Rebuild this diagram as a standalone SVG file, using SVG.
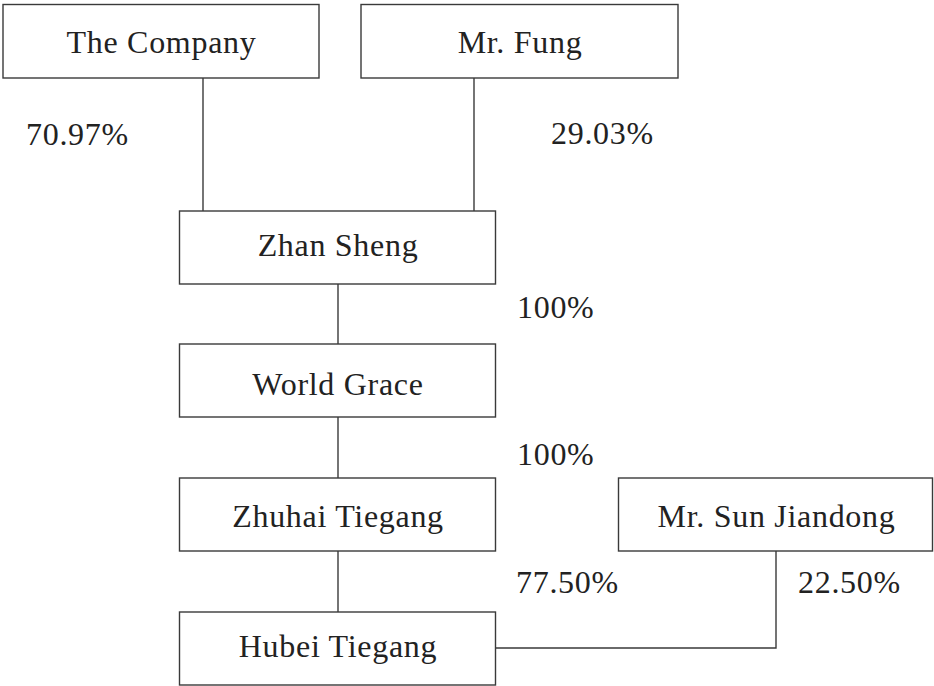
<svg xmlns="http://www.w3.org/2000/svg" width="934" height="686" viewBox="0 0 934 686">
<style>
.box{fill:#fff;stroke:#3a3a3a;stroke-width:1.4}
.conn{fill:none;stroke:#3a3a3a;stroke-width:1.4}
text{font-family:"Liberation Serif","Times New Roman",serif;font-size:32px;fill:#222;letter-spacing:0.7px}
.c{text-anchor:middle}
</style>
<rect width="934" height="686" fill="#fff"/>
<g id="connectors">
<path class="conn" d="M203 78V211"/>
<path class="conn" d="M474 78V211"/>
<path class="conn" d="M338 284V344"/>
<path class="conn" d="M338 417V478"/>
<path class="conn" d="M338 551V612"/>
<path class="conn" d="M776 551V648H495"/>
</g>
<g id="the-company"><rect class="box" x="3" y="4.5" width="316" height="73.5"/><text class="c" x="161.5" y="53">The Company</text></g>
<g id="mr-fung"><rect class="box" x="361" y="4.5" width="317" height="73.5"/><text class="c" x="520" y="53">Mr. Fung</text></g>
<g id="zhan-sheng"><rect class="box" x="179.5" y="211" width="316" height="73"/><text class="c" x="338" y="256">Zhan Sheng</text></g>
<g id="world-grace"><rect class="box" x="179.5" y="344" width="316" height="73"/><text class="c" x="338" y="395">World Grace</text></g>
<g id="zhuhai-tiegang"><rect class="box" x="179.5" y="478" width="316" height="73"/><text class="c" x="338" y="527">Zhuhai Tiegang</text></g>
<g id="hubei-tiegang"><rect class="box" x="179.5" y="612" width="316" height="73"/><text class="c" x="338" y="657">Hubei Tiegang</text></g>
<g id="mr-sun-jiandong"><rect class="box" x="618.5" y="478" width="314" height="73"/><text class="c" x="776.5" y="527">Mr. Sun Jiandong</text></g>
<g id="labels">
<text x="26" y="145">70.97%</text>
<text x="551" y="144">29.03%</text>
<text x="517" y="318">100%</text>
<text x="517" y="465">100%</text>
<text x="516" y="593">77.50%</text>
<text x="798" y="593">22.50%</text>
</g>
</svg>
